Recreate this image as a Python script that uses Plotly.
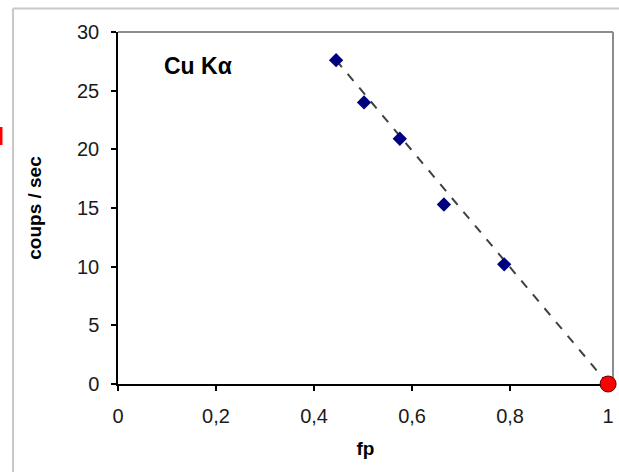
import plotly.graph_objects as go

# Measured points: peak-to-background fraction vs. counting rate
fp = [0.445, 0.502, 0.575, 0.665, 0.788]
counts = [27.6, 24.0, 20.9, 15.3, 10.2]

# Extrapolation line down to fp = 1 and the extrapolated point
trend_fp = [0.445, 1.0]
trend_counts = [27.6, 0.0]
end_fp = [1.0]
end_counts = [0.0]

x_ticks = [0, 0.2, 0.4, 0.6, 0.8, 1]
x_ticktext = ["0", "0,2", "0,4", "0,6", "0,8", "1"]
y_ticks = [0, 5, 10, 15, 20, 25, 30]

W, H = 619, 472
L, R, T, B = 118, 6, 32, 88
pw, ph = W - L - R, H - T - B


def px(x):
    return (x - L) / pw


def py(y):
    return (H - B - y) / ph


FONT = "Liberation Sans, Arial, sans-serif"

fig = go.Figure()
fig.add_trace(go.Scatter(
    x=trend_fp, y=trend_counts, mode="lines",
    line=dict(color="#404040", width=2, dash="dash"),
    hoverinfo="skip", showlegend=False,
))
fig.add_trace(go.Scatter(
    x=fp, y=counts, mode="markers",
    marker=dict(symbol="diamond", size=11, color="#000080"),
    showlegend=False,
))
fig.add_trace(go.Scatter(
    x=end_fp, y=end_counts, mode="markers",
    marker=dict(symbol="circle", size=16, color="#ff0000",
                line=dict(color="#600000", width=1)),
    showlegend=False, cliponaxis=False,
))

shapes = [
    # outer chart frame
    dict(type="line", xref="paper", yref="paper",
         x0=px(13), x1=px(640), y0=py(8.5), y1=py(8.5),
         line=dict(color="#c8c8c8", width=2)),
    dict(type="line", xref="paper", yref="paper",
         x0=px(13), x1=px(13), y0=py(8.5), y1=py(500),
         line=dict(color="#c8c8c8", width=2)),
    # plot area border (top and right)
    dict(type="line", xref="paper", yref="paper", layer="below",
         x0=0, x1=1, y0=1, y1=1, line=dict(color="#8c8c8c", width=2)),
    dict(type="line", xref="paper", yref="paper", layer="below",
         x0=1, x1=1, y0=0, y1=1, line=dict(color="#8c8c8c", width=2)),
    # red mark at the left edge
    dict(type="rect", xref="paper", yref="paper",
         x0=px(-2), x1=px(2.5), y0=py(145), y1=py(127),
         fillcolor="#ff0000", line=dict(width=0)),
]

fig.update_layout(
    width=W, height=H,
    margin=dict(l=L, r=R, t=T, b=B, pad=0),
    paper_bgcolor="white", plot_bgcolor="white",
    font=dict(family=FONT, size=20, color="#1a1a1a"),
    shapes=shapes,
    annotations=[dict(
        text="<b>Cu Kα</b>", xref="paper", yref="paper",
        x=px(162), y=py(66), xanchor="left", yanchor="middle",
        showarrow=False, font=dict(family=FONT, size=23, color="#000000"),
    )],
    xaxis=dict(
        range=[0, 1.01], tickvals=x_ticks, ticktext=x_ticktext,
        showgrid=False, zeroline=False, layer="below traces",
        showline=True, linecolor="#000000", linewidth=1.5,
        ticks="outside", ticklen=5, tickcolor="#000000", tickwidth=1.5,
        ticklabelstandoff=8,
        title=dict(text="<b>fp</b>", standoff=16,
                   font=dict(family=FONT, size=19, color="#000000")),
    ),
    yaxis=dict(
        range=[0, 30], tickvals=y_ticks,
        showgrid=False, zeroline=False, layer="below traces",
        showline=True, linecolor="#000000", linewidth=1.5,
        ticks="outside", ticklen=5, tickcolor="#000000", tickwidth=1.5,
        ticklabelstandoff=8,
        title=dict(text="<b>coups / sec</b>", standoff=30,
                   font=dict(family=FONT, size=19, color="#000000")),
    ),
)

fig.write_html("out.html")
